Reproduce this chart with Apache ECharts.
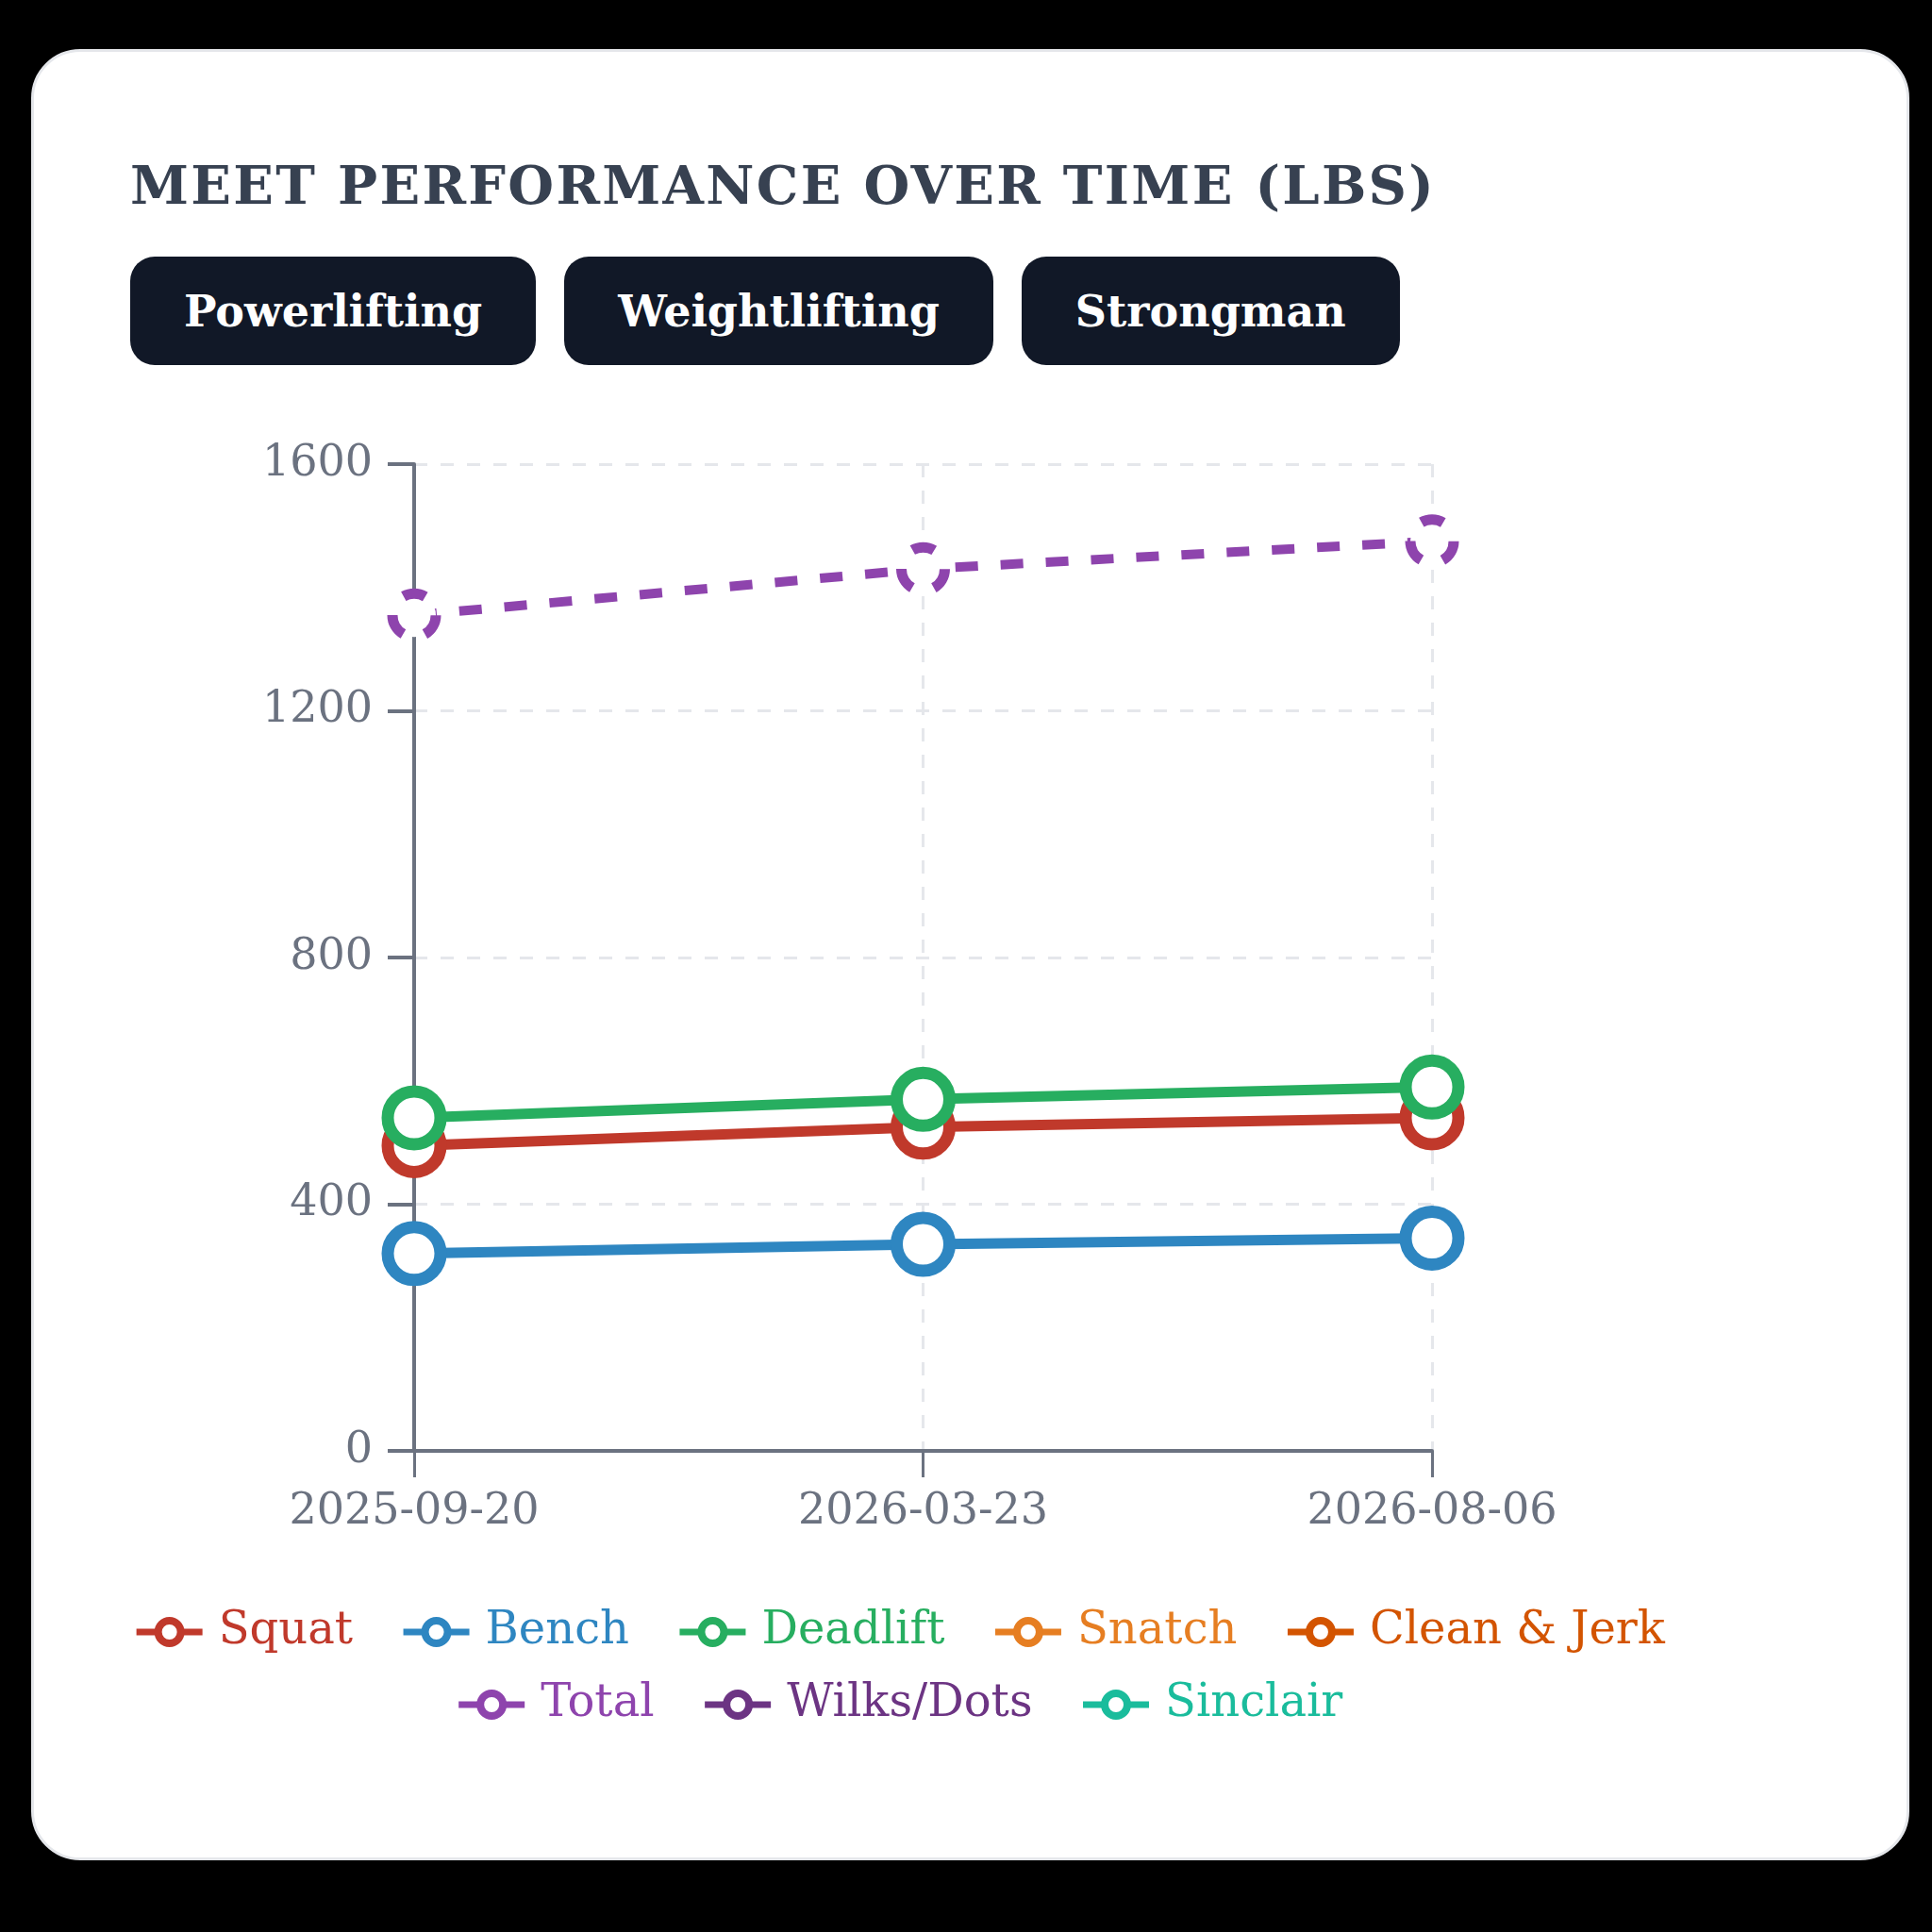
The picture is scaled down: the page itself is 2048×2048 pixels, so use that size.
<!DOCTYPE html>
<html>
<head>
    <meta charset="utf-8">
    <script src="https://cdn.jsdelivr.net/npm/echarts@6/dist/echarts.min.js"></script>
    <style>
        html, body { margin: 0; padding: 0; background: #000; width: 2048px; height: 2048px; overflow: hidden; }
        body { font-family: Georgia, "DejaVu Serif", serif; }
        .card {
            position: absolute; left: 33px; top: 52px; width: 1991px; height: 1920px;
            background: #fff; border-radius: 52px; box-sizing: border-box; border: 3px solid #e5e7eb;
        }
        .title {
            position: absolute; left: 138px; top: 160px; margin: 0;
            font-size: 56px; font-weight: bold; letter-spacing: 2.3px; color: #374151; line-height: 72px;
            white-space: nowrap;
        }
        .tabs { position: absolute; left: 138px; top: 272px; display: flex; gap: 30px; }
        .tab {
            height: 115px; box-sizing: border-box; padding: 0 57px; border-radius: 26px;
            background: #111827; color: #fff; font-size: 46px; font-weight: bold;
            display: flex; align-items: center; justify-content: center; white-space: nowrap;
        }
        #main { position: absolute; left: 138px; top: 400px; width: 1630px; height: 1500px; }
    </style>
</head>
<body>
    <div class="card"></div>
    <h2 class="title">MEET PERFORMANCE OVER TIME (LBS)</h2>
    <div class="tabs">
        <div class="tab">Powerlifting</div>
        <div class="tab">Weightlifting</div>
        <div class="tab">Strongman</div>
    </div>
    <div id="main"></div>
    <script type="text/javascript">
        var FONT = 'Georgia, "DejaVu Serif", serif';

        // meet dates
        var dates = ['2025-09-20', '2026-03-23', '2026-08-06'];

        // lifts in lbs
        var squat = [495, 525, 540];
        var bench = [320, 335, 345];
        var deadlift = [540, 570, 590];
        var total = [1355, 1430, 1475];
        var snatch = [];
        var cleanJerk = [];
        var wilks = [];
        var sinclair = [];

        var yTicks = { min: 0, max: 1600, interval: 400 };

        var names = ['Squat', 'Bench', 'Deadlift', 'Snatch', 'Clean & Jerk', 'Total', 'Wilks/Dots', 'Sinclair'];
        var colors = ['#c0392b', '#2e86c1', '#27ae60', '#e67e22', '#d35400', '#8e44ad', '#6c3483', '#1abc9c'];
        var values = [squat, bench, deadlift, snatch, cleanJerk, total, wilks, sinclair];

        var myChart = echarts.init(document.getElementById('main'));

        var series = names.map(function (name, i) {
            var isTotal = name === 'Total';
            return {
                name: name,
                type: 'line',
                data: values[i],
                symbol: 'circle',
                symbolSize: isTotal ? 46 : 56,
                z: isTotal ? 3 : (name === 'Deadlift' ? 4 : 2),
                lineStyle: {
                    color: colors[i],
                    width: isTotal ? 10 : 11,
                    type: isTotal ? [24, 24] : 'solid'
                },
                itemStyle: {
                    color: '#ffffff',
                    borderColor: colors[i],
                    borderWidth: isTotal ? 11 : 13,
                    borderType: isTotal ? [24, 24] : 'solid'
                },
                emphasis: { disabled: true },
                animation: false
            };
        });

        function legendItems(list) {
            return list.map(function (n) {
                return { name: n, textStyle: { color: colors[names.indexOf(n)] } };
            });
        }

        var legendBase = {
            itemWidth: 70,
            itemHeight: 30,
            itemGap: 50,
            left: 'center',
            width: 1900,
            padding: 0,
            textStyle: { fontFamily: FONT, fontSize: 48, padding: [0, 0, 0, 12] },
            lineStyle: { width: 7, type: 'solid' },
            itemStyle: { borderWidth: 8, borderType: 'solid' }
        };

        var option = {
            backgroundColor: 'transparent',
            textStyle: { fontFamily: FONT },
            grid: { left: 301, right: 250, top: 92, bottom: 362 },
            legend: [
                Object.assign({}, legendBase, { top: 1306, data: legendItems(names.slice(0, 5)) }),
                Object.assign({}, legendBase, { top: 1383, data: legendItems(names.slice(5)) })
            ],
            xAxis: {
                type: 'category',
                data: dates,
                boundaryGap: false,
                axisLine: { lineStyle: { color: '#6b7280', width: 4 } },
                axisTick: { show: true, length: 28, lineStyle: { color: '#6b7280', width: 3 } },
                axisLabel: { color: '#6b7280', fontSize: 46, fontFamily: FONT, margin: 42 },
                splitLine: { show: true, lineStyle: { color: '#e5e7eb', width: 3, type: [14, 14] } }
            },
            yAxis: {
                type: 'value',
                min: yTicks.min,
                max: yTicks.max,
                interval: yTicks.interval,
                axisLine: { show: true, lineStyle: { color: '#6b7280', width: 4 } },
                axisTick: { show: true, length: 28, lineStyle: { color: '#6b7280', width: 4 } },
                axisLabel: {
                    color: '#6b7280', fontSize: 46, fontFamily: FONT, margin: 44,
                    padding: [14, 0, 0, 0],
                    formatter: function (v) { return String(v); }
                },
                splitLine: { show: true, lineStyle: { color: '#e5e7eb', width: 3, type: [14, 14] } }
            },
            series: series
        };

        myChart.setOption(option);
    </script>
</body>
</html>
